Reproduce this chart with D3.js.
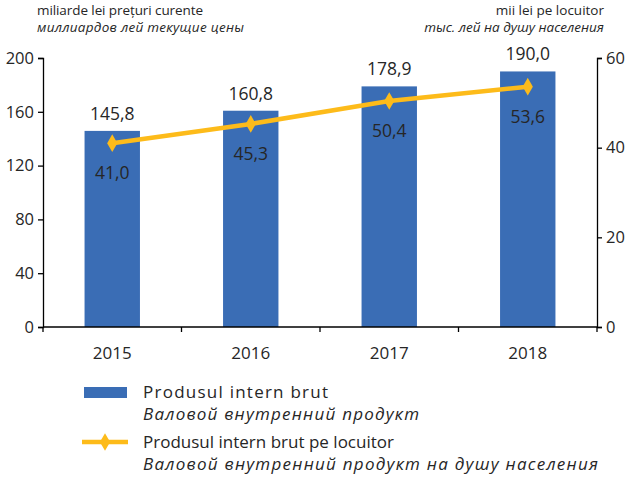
<!DOCTYPE html>
<html>
<head>
<meta charset="utf-8">
<script src="https://cdn.jsdelivr.net/npm/d3@7"></script>
<style>
  body { margin: 0; background: #fff; }
  svg text { font-family: "Open Sans", "Noto Sans", sans-serif; fill: #262626; }
</style>
</head>
<body>
<svg id="chart" width="636" height="477"></svg>
<script>
const years = ["2015", "2016", "2017", "2018"];
const gdpValues = [145.8, 160.8, 178.9, 190.0];
const perCapita = [41.0, 45.3, 50.4, 53.6];
const leftTicks = [0, 40, 80, 120, 160, 200];
const rightTicks = [0, 20, 40, 60];

const svg = d3.select("#chart");
const fmt = v => v.toFixed(1).replace(".", ",");

const x = d3.scaleBand().domain(years).range([43, 597]).paddingInner(0.6).paddingOuter(0.3);
const yL = d3.scaleLinear().domain([0, 200]).range([327, 58]);
const yR = d3.scaleLinear().domain([0, 60]).range([327, 58]);

const barColor = "#3a6db5";
const lineColor = "#fdbb1a";

// header texts
svg.append("text").attr("x", 37).attr("y", 15).style("font-size", "13.5px").attr("textLength", 166).text("miliarde lei prețuri curente");
svg.append("text").attr("x", 37).attr("y", 32).style("font-size", "13.5px").style("font-style", "italic").attr("textLength", 207).text("миллиардов лей текущие цены");
svg.append("text").attr("x", 604).attr("y", 15).attr("text-anchor", "end").style("font-size", "13.5px").text("mii lei pe locuitor");
svg.append("text").attr("x", 604).attr("y", 32).attr("text-anchor", "end").style("font-size", "13.5px").style("font-style", "italic").text("тыс. лей на душу населения");

// bars
svg.selectAll(".bar").data(years).enter().append("rect")
  .attr("x", d => x(d))
  .attr("width", x.bandwidth())
  .attr("y", (d, i) => yL(gdpValues[i]))
  .attr("height", (d, i) => yL(0) - yL(gdpValues[i]))
  .attr("fill", barColor);

svg.selectAll(".barlabel").data(years).enter().append("text")
  .attr("x", d => x(d) + x.bandwidth() / 2)
  .attr("y", (d, i) => yL(gdpValues[i]) - 11)
  .attr("text-anchor", "middle")
  .style("font-size", "17.5px")
  .text((d, i) => fmt(gdpValues[i]));

// axes
const axL = svg.append("g").attr("transform", "translate(43,0)")
  .call(d3.axisLeft(yL).tickValues(leftTicks).tickSize(5).tickPadding(4));
const axR = svg.append("g").attr("transform", "translate(597,0)")
  .call(d3.axisRight(yR).tickValues(rightTicks).tickSize(5).tickPadding(4));
[axL, axR].forEach(a => {
  a.select(".domain").attr("stroke", "#000").attr("stroke-width", 1.3);
  a.selectAll(".tick line").attr("stroke", "#000").attr("stroke-width", 1.3);
  a.selectAll("text").style("font-size", "16.5px").attr("fill", "#262626");
});

const xb = svg.append("g").attr("transform", "translate(0,327)");
xb.append("line").attr("x1", 43).attr("x2", 597).attr("stroke", "#000").attr("stroke-width", 1.3);
const bounds = d3.range(years.length + 1).map(i => 43 + i * (554 / years.length));
xb.selectAll(".xt").data(bounds).enter().append("line")
  .attr("x1", d => d).attr("x2", d => d).attr("y1", 0).attr("y2", 5)
  .attr("stroke", "#000").attr("stroke-width", 1.3);
xb.selectAll(".xl").data(years).enter().append("text")
  .attr("x", d => x(d) + x.bandwidth() / 2)
  .attr("y", 32)
  .attr("text-anchor", "middle")
  .style("font-size", "17px")
  .text(d => d);

// line
const pts = years.map((d, i) => [x(d) + x.bandwidth() / 2, yR(perCapita[i])]);
svg.append("path").attr("d", d3.line()(pts))
  .attr("fill", "none").attr("stroke", lineColor).attr("stroke-width", 4.5);
const diamond = d3.symbol().type(d3.symbolDiamond).size(90);
svg.selectAll(".pt").data(pts).enter().append("path")
  .attr("d", diamond)
  .attr("transform", d => `translate(${d[0]},${d[1]})`)
  .attr("fill", lineColor);
svg.selectAll(".ptlabel").data(pts).enter().append("text")
  .attr("x", d => d[0])
  .attr("y", d => d[1] + 36)
  .attr("text-anchor", "middle")
  .style("font-size", "17.5px")
  .text((d, i) => fmt(perCapita[i]));

// legend
const lg = svg.append("g");
lg.append("rect").attr("x", 84).attr("y", 387).attr("width", 43).attr("height", 11).attr("fill", barColor);
lg.append("text").attr("x", 143).attr("y", 398).style("font-size", "17px").attr("textLength", 185).text("Produsul intern brut");
lg.append("text").attr("x", 143).attr("y", 420).style("font-size", "17px").style("font-style", "italic").attr("textLength", 276).text("Валовой внутренний продукт");
lg.append("line").attr("x1", 82).attr("x2", 128).attr("y1", 442).attr("y2", 442)
  .attr("stroke", lineColor).attr("stroke-width", 4.5);
lg.append("path").attr("d", diamond).attr("transform", "translate(105,442)").attr("fill", lineColor);
lg.append("text").attr("x", 143).attr("y", 448).style("font-size", "17px").attr("textLength", 251).text("Produsul intern brut pe locuitor");
lg.append("text").attr("x", 143).attr("y", 470).style("font-size", "17px").style("font-style", "italic").attr("textLength", 455).text("Валовой внутренний продукт на душу населения");
</script>
</body>
</html>
